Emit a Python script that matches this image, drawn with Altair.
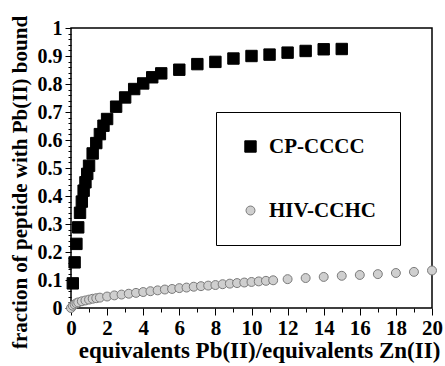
import altair as alt
import pandas as pd

cp_x = [0.1, 0.2, 0.3, 0.4, 0.5, 0.6, 0.7, 0.8, 0.9, 1.0, 1.2, 1.4, 1.6, 1.8, 2.0,
        2.5, 3.0, 3.5, 4.0, 4.5, 5.0, 6, 7, 8, 9, 10, 11, 12, 13, 14, 15]
cp_y = [0.088, 0.163, 0.229, 0.288, 0.34, 0.38, 0.419, 0.449, 0.479, 0.508, 0.552,
        0.589, 0.621, 0.651, 0.675, 0.719, 0.752, 0.782, 0.802, 0.824, 0.838,
        0.851, 0.871, 0.879, 0.891, 0.9, 0.905, 0.912, 0.918, 0.924, 0.925]

hiv_x = [0, 0.1, 0.2, 0.3, 0.4, 0.6, 0.8, 1.0, 1.2, 1.4, 1.6, 2.0, 2.4, 2.8, 3.2, 3.6,
         4.0, 4.4, 4.8, 5.2, 5.6, 6.0, 6.4, 6.8, 7.2, 7.6, 8.0, 8.4, 8.8, 9.2, 9.6,
         10.0, 10.4, 10.8, 11.2, 12, 13, 14, 15, 16, 17, 18, 19, 20]
hiv_y = [0, 0.008, 0.013, 0.017, 0.02, 0.024, 0.027, 0.03, 0.033, 0.035, 0.037, 0.041,
         0.045, 0.048, 0.051, 0.054, 0.057, 0.06, 0.063, 0.066, 0.068, 0.071, 0.073,
         0.076, 0.078, 0.08, 0.082, 0.085, 0.087, 0.089, 0.091, 0.093, 0.095, 0.097,
         0.099, 0.103, 0.107, 0.111, 0.115, 0.118, 0.121, 0.125, 0.129, 0.134]

series = ["CP-CCCC", "HIV-CCHC"]

df = pd.concat([
    pd.DataFrame({"x": cp_x, "y": cp_y, "s": series[0]}),
    pd.DataFrame({"x": hiv_x, "y": hiv_y, "s": series[1]}),
])

FONT = "Liberation Serif"
x_vals = list(range(0, 21))
y_vals = [round(i * 0.02, 2) for i in range(51)]

common = dict(labelFont=FONT, labelFontWeight="bold", labelColor="black",
              titleFont=FONT, titleFontWeight="bold", titleColor="black",
              labelOverlap=False, labelFlush=False, domain=False, grid=False,
              tickColor="black", tickWidth=1)

major_y = "abs(datum.value*10 - round(datum.value*10)) < 0.001"

chart = alt.Chart(df).mark_point(filled=True, opacity=1, strokeWidth=1).encode(
    x=alt.X("x:Q", scale=alt.Scale(domain=[0, 20], nice=False, zero=False),
            axis=alt.Axis(
                title="equivalents Pb(II)/equivalents Zn(II)",
                values=x_vals,
                labelExpr="datum.value % 2 == 0 ? datum.label : ''",
                tickSize={"condition": {"test": "datum.value % 2 == 0", "value": 7}, "value": 4},
                labelFontSize=21, titleFontSize=23, titleX=188,
                labelPadding=2, titlePadding=1, **common)),
    y=alt.Y("y:Q", scale=alt.Scale(domain=[0, 1], nice=False),
            axis=alt.Axis(
                title="fraction of peptide with Pb(II) bound",
                values=y_vals,
                labelExpr=major_y + " ? format(datum.value, '.1~f') : ''",
                tickSize={"condition": {"test": major_y, "value": 6}, "value": 3},
                labelFontSize=20, titleFontSize=21, titleY=154,
                labelPadding=3, titlePadding=7, **common)),
    color=alt.Color("s:N", scale=alt.Scale(domain=series, range=["#000000", "#cfcfcf"]),
                    legend=alt.Legend(title=None, orient="none", legendX=145, legendY=84,
                                      strokeColor="black", fillColor="white", padding=24,
                                      rowPadding=42, labelFont=FONT, labelFontSize=21,
                                      labelFontWeight="bold", labelColor="black",
                                      labelOffset=8, symbolSize=140, symbolStrokeWidth=1)),
    shape=alt.Shape("s:N", scale=alt.Scale(domain=series, range=["square", "circle"])),
    stroke=alt.Stroke("s:N", scale=alt.Scale(domain=series, range=["#000000", "#7a7a7a"])),
    size=alt.Size("s:N", scale=alt.Scale(domain=series, range=[130, 80]), legend=None),
).properties(
    width=361, height=280,
    autosize=alt.AutoSizeParams(type="none"),
    padding={"left": 71, "top": 28, "right": 13, "bottom": 58},
).configure_view(
    stroke="black", strokeWidth=1.5
)

chart.save("out.html", embed_options={"renderer": "svg", "actions": False})
